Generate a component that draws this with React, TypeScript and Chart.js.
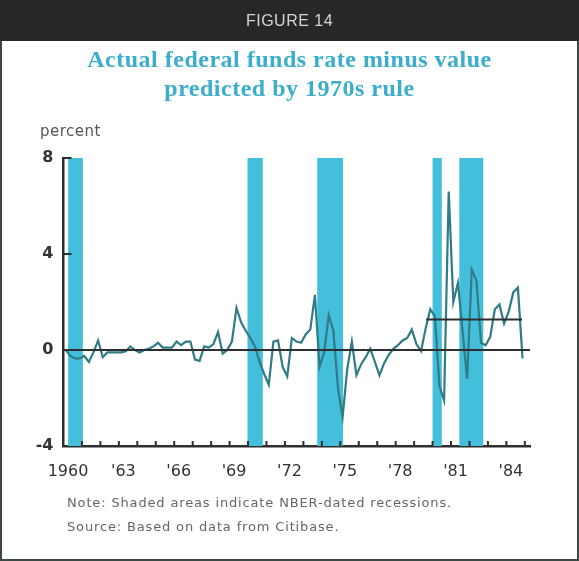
import React, { useEffect, useRef } from "react";
import { Chart, registerables } from "chart.js";

Chart.register(...registerables);

// Quarterly gap: actual federal funds rate minus 1970s-rule prediction, 1960Q1..1984Q4
const quarterlyGap = [
  0.0, -0.25, -0.35, -0.35, -0.25, -0.5, -0.1, 0.4, -0.3, -0.1,
  -0.1, -0.1, -0.1, -0.05, 0.15, 0.0, -0.1, 0.0, 0.05, 0.15,
  0.3, 0.1, 0.1, 0.1, 0.35, 0.2, 0.35, 0.35, -0.4, -0.45,
  0.15, 0.1, 0.25, 0.75, -0.15, 0.0, 0.35, 1.75, 1.15, 0.8,
  0.5, 0.15, -0.5, -1.0, -1.45, 0.35, 0.4, -0.7, -1.1, 0.5,
  0.35, 0.3, 0.65, 0.85, 2.3, -0.7, -0.1, 1.45, 0.8, -1.6,
  -2.8, -0.8, 0.35, -1.05, -0.6, -0.3, 0.05, -0.5, -1.05, -0.55,
  -0.2, 0.05, 0.2, 0.4, 0.5, 0.85, 0.25, -0.05, 0.9, 1.7,
  1.4, -1.5, -2.1, 6.6, 2.0, 2.8, 0.8, -1.2, 3.35, 2.9,
  0.3, 0.2, 0.55, 1.7, 1.9, 1.1, 1.6, 2.4, 2.6, -0.35,
];
const firstYear = 1960;

// NBER recessions (fractional years)
const recessionStarts = [1960.25, 1969.97, 1973.75, 1980.0, 1981.45];
const recessionEnds = [1961.05, 1970.8, 1975.15, 1980.5, 1982.75];

// Post-October-1979 average line
const regimeStart = 1979.65;
const regimeEnd = 1984.85;
const regimeMean = 1.27;

const xMin = 1960;
const xMax = 1985.28;
const xLabelYears = [1960, 1963, 1966, 1969, 1972, 1975, 1978, 1981, 1984];
const xTickYears = Array.from({ length: 25 }, (_, k) => 1961 + k);
const yTickValues = [-4, 0, 4, 8];
const yInnerTicks = [8, 4];

const AXIS = "#2e2e2e";
const LINE = "#2f7b86";
const SHADE = "#43bedb";

export default function App() {
  const ref = useRef<HTMLCanvasElement>(null);

  useEffect(() => {
    if (!ref.current) return;
    const points = quarterlyGap.map((v, i) => ({ x: firstYear + (i + 0.5) / 4, y: v }));

    const recessionPlugin = {
      id: "recessions",
      beforeDatasetsDraw(chart: any) {
        const { ctx, scales } = chart;
        const xs = scales.x, ys = scales.y;
        const top = ys.getPixelForValue(8);
        const bottom = ys.getPixelForValue(-4);
        ctx.save();
        ctx.fillStyle = SHADE;
        recessionStarts.forEach((s, i) => {
          const x0 = xs.getPixelForValue(s);
          const x1 = xs.getPixelForValue(recessionEnds[i]);
          ctx.fillRect(x0, top, x1 - x0, bottom - top);
        });
        ctx.restore();
      },
    };

    const innerTickPlugin = {
      id: "innerTicks",
      afterDraw(chart: any) {
        const { ctx, scales, chartArea } = chart;
        const xs = scales.x, ys = scales.y;
        ctx.save();
        ctx.strokeStyle = AXIS;
        ctx.lineWidth = 2;
        xTickYears.forEach((yr) => {
          const px = xs.getPixelForValue(yr);
          ctx.beginPath();
          ctx.moveTo(px, chartArea.bottom);
          ctx.lineTo(px, chartArea.bottom - 5);
          ctx.stroke();
        });
        yInnerTicks.forEach((v) => {
          const py = ys.getPixelForValue(v);
          ctx.beginPath();
          ctx.moveTo(chartArea.left, py);
          ctx.lineTo(chartArea.left + 8, py);
          ctx.stroke();
        });
        ctx.restore();
      },
    };

    const chart = new Chart(ref.current, {
      type: "line",
      data: {
        datasets: [
          {
            data: [
              { x: xMin, y: 0 },
              { x: xMax, y: 0 },
            ],
            borderColor: AXIS,
            borderWidth: 2.2,
            pointRadius: 0,
          },
          {
            data: [
              { x: regimeStart, y: regimeMean },
              { x: regimeEnd, y: regimeMean },
            ],
            borderColor: AXIS,
            borderWidth: 2.2,
            pointRadius: 0,
          },
          {
            data: points,
            borderColor: LINE,
            borderWidth: 2.2,
            pointRadius: 0,
            tension: 0,
          },
        ],
      },
      options: {
        animation: false,
        responsive: false,
        events: [],
        layout: { padding: { left: 13.5, top: 158, right: 49, bottom: 75 } },
        plugins: { legend: { display: false }, tooltip: { enabled: false }, title: { display: false } },
        scales: {
          x: {
            type: "linear",
            min: xMin,
            max: xMax,
            afterFit: (s: any) => {
              s.height = 40;
            },
            afterBuildTicks: (s: any) => {
              s.ticks = xLabelYears.map((v) => ({ value: v }));
            },
            border: { display: true, color: AXIS, width: 2.5 },
            grid: { display: true, drawOnChartArea: false, drawTicks: false, color: "rgba(0,0,0,0)" },
            ticks: {
              autoSkip: false,
              maxRotation: 0,
              padding: 16,
              labelOffset: 4.5,
              color: "#333",
              font: { family: "'DejaVu Sans'", size: 16 },
              callback: (v: any) => (Number(v) === 1960 ? "1960" : "'" + String(v).slice(2)),
            },
          },
          y: {
            min: -4,
            max: 8,
            afterFit: (s: any) => {
              s.width = 50;
            },
            afterBuildTicks: (s: any) => {
              s.ticks = yTickValues.map((v) => ({ value: v }));
            },
            border: { display: true, color: AXIS, width: 2.5 },
            grid: { display: true, drawOnChartArea: false, drawTicks: false, color: "rgba(0,0,0,0)" },
            ticks: {
              padding: 10,
              color: "#333",
              font: { family: "'DejaVu Sans'", size: 16, weight: "bold" },
              callback: (v: any) => String(v),
            },
          },
        },
      },
      plugins: [recessionPlugin, innerTickPlugin],
    });
    return () => chart.destroy();
  }, []);

  return (
    <div
      style={{
        position: "fixed",
        left: 0,
        top: 0,
        width: 579,
        height: 561,
        background: "#ffffff",
        overflow: "hidden",
      }}
    >
      <canvas ref={ref} width={579} height={561} style={{ position: "absolute", left: 0, top: 0 }} />
      <div
        style={{
          position: "absolute",
          left: 0,
          top: 0,
          width: 579,
          height: 561,
          boxSizing: "border-box",
          border: "2px solid #3b4843",
          pointerEvents: "none",
        }}
      />
      <div
        style={{
          position: "absolute",
          left: 0,
          top: 0,
          width: 579,
          height: 41,
          background: "#272727",
          color: "#d4d4d4",
          fontFamily: "'Liberation Sans', Arial, sans-serif",
          fontSize: 16,
          letterSpacing: 0.5,
          lineHeight: "41px",
          textAlign: "center",
        }}
      >
        FIGURE 14
      </div>
      <div
        style={{
          position: "absolute",
          left: 0,
          top: 45,
          width: 579,
          textAlign: "center",
          color: "#3aaecb",
          fontFamily: "'Liberation Serif', 'Times New Roman', serif",
          fontWeight: "bold",
          fontSize: 24,
          letterSpacing: 0.5,
          lineHeight: "29px",
        }}
      >
        Actual federal funds rate minus value
        <br />
        predicted by 1970s rule
      </div>
      <div
        style={{
          position: "absolute",
          left: 40,
          top: 122,
          color: "#555",
          fontFamily: "'DejaVu Sans', sans-serif",
          fontSize: 15,
          letterSpacing: 0.5,
        }}
      >
        percent
      </div>
      <div
        style={{
          position: "absolute",
          left: 67,
          top: 491,
          color: "#666",
          fontFamily: "'DejaVu Sans', sans-serif",
          fontSize: 13,
          lineHeight: "24px",
          letterSpacing: 0.85,
        }}
      >
        Note: Shaded areas indicate NBER-dated recessions.
        <br />
        Source: Based on data from Citibase.
      </div>
    </div>
  );
}
